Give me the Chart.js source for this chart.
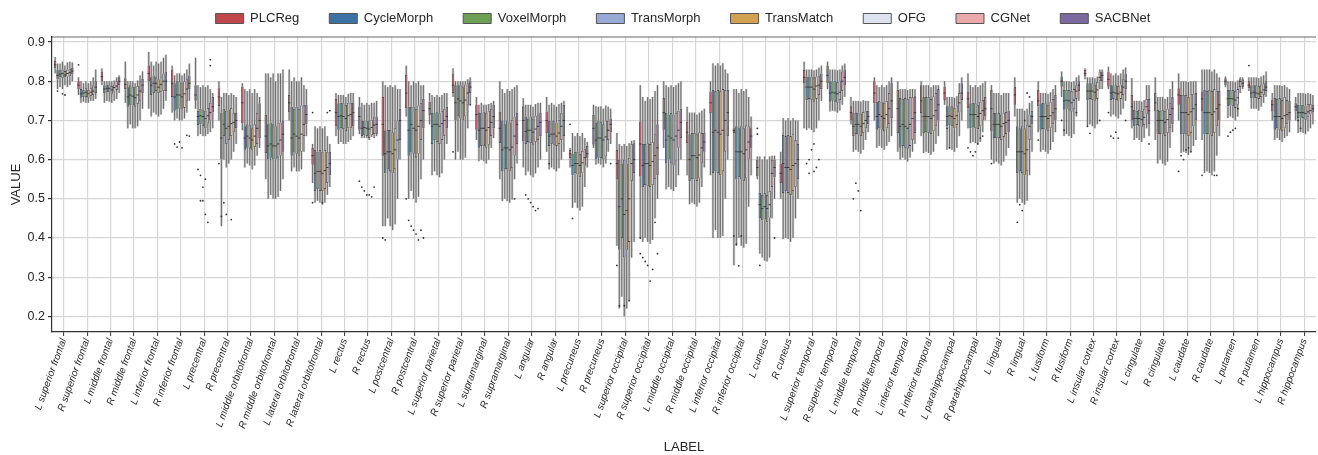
<!DOCTYPE html>
<html><head><meta charset="utf-8">
<script src="https://cdn.jsdelivr.net/npm/chart.js@4.4.1/dist/chart.umd.min.js"></script>
<style>html,body{margin:0;padding:0;background:#fff}canvas{display:block}</style>
</head><body>
<canvas id="c" width="1318" height="455" style="width:1318px;height:455px"></canvas>
<script>
// ---------- DATA ----------
const categories = ["L superior frontal","R superior frontal","L middle frontal","R middle frontal","L inferior frontal","R inferior frontal","L precentral","R precentral","L middle orbitofrontal","R middle orbitofrontal","L lateral orbitofrontal","R lateral orbitofrontal","L rectus","R rectus","L postcentral","R postcentral","L superior parietal","R superior parietal","L supramarginal","R supramarginal","L angular","R angular","L precuneus","R precuneus","L superior occipital","R superior occipital","L middle occipital","R middle occipital","L inferior occipital","R inferior occipital","L cuneus","R cuneus","L superior temporal","R superior temporal","L middle temporal","R middle temporal","L inferior temporal","R inferior temporal","L parahippocampal","R parahippocampal","L lingual","R lingual","L fusiform","R fusiform","L insular cortex","R insular cortex","L cingulate","R cingulate","L caudate","R caudate","L putamen","R putamen","L hippocampus","R hippocampus"];
const seriesNames = ["PLCReg","CycleMorph","VoxelMorph","TransMorph","TransMatch","OFG","CGNet","SACBNet"];
const yTicks = [0.2,0.3,0.4,0.5,0.6,0.7,0.8,0.9];
// each entry: [lower whisker, Q1, median, Q3, upper whisker]
const PLCReg = [[.82,.833,.842,.852,.862],[.765,.78,.79,.80,.81],[.79,.80,.812,.825,.833],[.745,.78,.792,.808,.85],[.73,.80,.82,.84,.875],[.72,.76,.795,.83,.84],[.73,.75,.765,.79,.86],[.70,.737,.76,.782,.80],[.675,.693,.745,.786,.795],[.55,.617,.66,.714,.82],[.70,.72,.745,.765,.83],[.54,.587,.61,.63,.64],[.66,.685,.72,.755,.77],[.665,.676,.71,.735,.76],[.43,.61,.69,.76,.80],[.71,.731,.77,.816,.84],[.69,.714,.73,.748,.77],[.76,.77,.79,.82,.833],[.65,.676,.715,.74,.76],[.55,.642,.68,.723,.80],[.58,.647,.70,.736,.757],[.62,.668,.70,.723,.76],[.58,.604,.615,.625,.63],[.63,.638,.68,.714,.74],[.38,.549,.59,.625,.668],[.40,.557,.64,.697,.79],[.63,.676,.72,.757,.80],[.56,.642,.67,.697,.735],[.56,.719,.745,.774,.80],[.33,.668,.674,.68,.78],[.55,.557,.58,.60,.608],[.50,.54,.565,.59,.62],[.68,.795,.81,.829,.85],[.78,.795,.815,.84,.85],[.69,.70,.72,.736,.76],[.70,.744,.77,.80,.81],[.62,.668,.73,.778,.80],[.66,.719,.75,.79,.80],[.74,.752,.77,.786,.80],[.68,.731,.755,.774,.82],[.60,.672,.73,.778,.79],[.71,.74,.765,.786,.81],[.67,.736,.75,.778,.80],[.76,.786,.80,.812,.825],[.805,.812,.82,.829,.833],[.78,.786,.805,.825,.837],[.68,.70,.735,.765,.808],[.65,.723,.745,.77,.81],[.70,.74,.765,.782,.82],[.65,.723,.755,.774,.83],[.785,.79,.80,.808,.812],[.775,.782,.79,.80,.81],[.70,.723,.74,.753,.77],[.70,.723,.735,.744,.76]];
const CycleMorph = [[.78,.805,.815,.83,.845],[.745,.758,.768,.78,.80],[.745,.77,.78,.79,.80],[.68,.735,.76,.785,.80],[.71,.765,.79,.81,.85],[.70,.725,.76,.795,.815],[.66,.688,.71,.725,.79],[.43,.60,.655,.72,.76],[.58,.625,.655,.685,.78],[.50,.60,.635,.69,.82],[.57,.61,.655,.735,.80],[.49,.52,.565,.625,.685],[.64,.676,.71,.744,.765],[.655,.66,.68,.70,.745],[.43,.565,.615,.675,.79],[.50,.61,.675,.735,.80],[.56,.64,.685,.72,.765],[.60,.70,.745,.79,.80],[.596,.63,.675,.72,.74],[.494,.57,.625,.70,.78],[.56,.64,.672,.71,.74],[.575,.635,.66,.70,.74],[.477,.56,.585,.615,.668],[.587,.60,.65,.695,.736],[.22,.37,.48,.60,.64],[.39,.53,.585,.64,.76],[.524,.59,.65,.719,.79],[.486,.545,.60,.665,.72],[.40,.566,.67,.778,.846],[.38,.549,.62,.685,.78],[.36,.45,.485,.515,.608],[.397,.515,.59,.663,.706],[.676,.752,.785,.812,.83],[.723,.748,.77,.80,.83],[.62,.66,.685,.72,.75],[.63,.676,.71,.748,.79],[.60,.63,.685,.757,.78],[.617,.668,.71,.76,.79],[.625,.685,.71,.736,.76],[.642,.68,.715,.744,.79],[.59,.655,.69,.719,.77],[.49,.566,.62,.685,.73],[.62,.676,.71,.744,.77],[.66,.727,.75,.778,.80],[.685,.752,.775,.795,.81],[.71,.752,.77,.79,.82],[.65,.685,.705,.727,.75],[.59,.664,.70,.727,.76],[.617,.664,.72,.765,.80],[.566,.664,.72,.778,.83],[.706,.736,.755,.778,.80],[.73,.757,.77,.79,.81],[.65,.676,.71,.757,.79],[.668,.706,.72,.74,.77]];
const VoxelMorph = [[.785,.81,.818,.828,.845],[.748,.76,.77,.778,.795],[.75,.772,.782,.792,.80],[.69,.74,.765,.79,.80],[.72,.77,.795,.815,.84],[.705,.73,.765,.80,.82],[.665,.69,.712,.73,.785],[.60,.66,.69,.73,.77],[.59,.63,.66,.69,.775],[.51,.605,.64,.695,.81],[.58,.62,.665,.73,.81],[.495,.525,.57,.62,.68],[.645,.68,.712,.745,.765],[.655,.662,.682,.70,.74],[.45,.575,.62,.676,.785],[.52,.62,.69,.735,.79],[.57,.65,.69,.72,.76],[.62,.71,.755,.79,.80],[.60,.635,.68,.72,.745],[.50,.575,.63,.69,.77],[.57,.645,.675,.705,.74],[.58,.64,.665,.70,.745],[.49,.565,.59,.62,.66],[.59,.605,.655,.70,.735],[.25,.40,.50,.59,.635],[.40,.535,.59,.64,.75],[.53,.60,.66,.715,.785],[.49,.55,.61,.668,.72],[.42,.57,.675,.775,.84],[.40,.555,.62,.68,.77],[.35,.445,.475,.51,.60],[.40,.52,.58,.66,.70],[.68,.755,.785,.81,.83],[.725,.75,.772,.80,.83],[.625,.665,.69,.72,.75],[.635,.68,.715,.75,.785],[.605,.635,.69,.755,.78],[.62,.67,.71,.76,.79],[.63,.688,.712,.736,.76],[.645,.682,.715,.745,.785],[.595,.655,.69,.72,.77],[.50,.57,.62,.68,.73],[.625,.678,.71,.745,.77],[.665,.73,.752,.778,.80],[.69,.755,.775,.795,.81],[.715,.755,.772,.79,.815],[.655,.688,.705,.725,.75],[.60,.665,.70,.725,.76],[.62,.665,.72,.765,.80],[.57,.665,.72,.775,.83],[.71,.738,.756,.778,.80],[.73,.758,.772,.79,.81],[.655,.68,.71,.755,.79],[.67,.707,.72,.74,.77]];
const TransMorph = [[.78,.808,.82,.83,.85],[.745,.76,.772,.782,.80],[.748,.772,.782,.79,.80],[.68,.738,.762,.786,.80],[.715,.775,.795,.81,.85],[.70,.73,.765,.80,.82],[.66,.685,.71,.728,.79],[.58,.64,.68,.725,.77],[.585,.628,.655,.688,.78],[.50,.60,.635,.69,.82],[.57,.615,.66,.735,.80],[.49,.52,.57,.625,.685],[.64,.678,.71,.744,.765],[.655,.66,.68,.70,.745],[.43,.57,.62,.676,.79],[.50,.615,.68,.735,.80],[.56,.645,.69,.723,.765],[.60,.705,.75,.79,.80],[.596,.634,.68,.723,.74],[.494,.575,.63,.70,.78],[.56,.642,.675,.71,.74],[.575,.638,.665,.70,.74],[.477,.562,.59,.62,.668],[.587,.604,.655,.697,.736],[.20,.35,.46,.60,.64],[.39,.532,.59,.642,.76],[.524,.59,.655,.719,.79],[.486,.549,.61,.668,.72],[.40,.566,.67,.778,.846],[.38,.549,.62,.685,.78],[.342,.447,.48,.515,.608],[.397,.515,.58,.663,.706],[.676,.752,.785,.812,.83],[.723,.748,.77,.80,.83],[.62,.664,.69,.72,.75],[.63,.676,.71,.748,.79],[.60,.63,.685,.757,.78],[.617,.668,.71,.76,.79],[.625,.685,.71,.736,.76],[.642,.68,.715,.744,.79],[.59,.655,.69,.719,.77],[.49,.566,.62,.685,.73],[.62,.676,.71,.744,.77],[.66,.727,.75,.778,.80],[.685,.752,.775,.795,.81],[.71,.752,.77,.79,.82],[.65,.685,.705,.727,.75],[.59,.664,.70,.727,.76],[.617,.664,.72,.765,.80],[.566,.664,.72,.778,.83],[.706,.736,.755,.778,.80],[.73,.757,.77,.79,.81],[.65,.676,.71,.757,.79],[.668,.706,.72,.74,.77]];
const TransMatch = [[.79,.81,.816,.826,.84],[.745,.758,.768,.778,.795],[.745,.768,.778,.788,.80],[.68,.735,.758,.785,.795],[.71,.77,.785,.805,.845],[.70,.728,.76,.795,.815],[.66,.68,.705,.725,.785],[.59,.65,.685,.728,.765],[.575,.625,.65,.68,.77],[.50,.60,.635,.685,.80],[.57,.61,.655,.73,.80],[.485,.52,.565,.62,.68],[.64,.672,.705,.74,.76],[.65,.655,.678,.70,.74],[.42,.565,.615,.67,.785],[.49,.605,.675,.73,.795],[.555,.64,.685,.72,.76],[.60,.70,.745,.785,.80],[.59,.63,.675,.72,.74],[.49,.57,.625,.695,.775],[.555,.638,.67,.705,.735],[.57,.635,.66,.695,.735],[.47,.555,.585,.615,.66],[.58,.60,.65,.69,.73],[.22,.37,.47,.59,.635],[.385,.53,.585,.64,.755],[.52,.585,.65,.715,.785],[.48,.545,.605,.665,.715],[.40,.56,.665,.775,.84],[.375,.545,.615,.68,.775],[.34,.44,.475,.51,.60],[.39,.51,.575,.66,.70],[.67,.748,.78,.81,.828],[.72,.745,.768,.798,.828],[.615,.66,.685,.718,.748],[.625,.672,.705,.745,.785],[.595,.628,.68,.755,.778],[.612,.665,.705,.755,.785],[.62,.68,.705,.732,.758],[.64,.678,.71,.74,.785],[.585,.65,.685,.715,.765],[.485,.56,.615,.68,.725],[.615,.672,.705,.74,.768],[.655,.722,.745,.775,.798],[.68,.75,.772,.792,.808],[.705,.75,.768,.788,.815],[.645,.682,.702,.725,.748],[.585,.66,.695,.725,.755],[.612,.66,.715,.76,.798],[.56,.66,.715,.775,.825],[.70,.732,.752,.775,.798],[.725,.755,.768,.788,.808],[.645,.672,.705,.752,.788],[.665,.702,.718,.738,.768]];
const OFG = [[.785,.812,.82,.83,.848],[.75,.762,.772,.782,.80],[.75,.774,.784,.792,.802],[.685,.742,.765,.788,.802],[.715,.772,.792,.812,.85],[.705,.732,.768,.80,.82],[.665,.692,.712,.732,.79],[.60,.66,.692,.732,.77],[.585,.632,.66,.69,.78],[.505,.605,.64,.695,.82],[.575,.62,.665,.738,.81],[.49,.525,.572,.625,.685],[.645,.68,.712,.745,.768],[.658,.662,.682,.702,.745],[.435,.575,.625,.68,.79],[.505,.615,.685,.738,.80],[.565,.65,.692,.725,.765],[.605,.71,.752,.792,.80],[.60,.638,.682,.725,.742],[.498,.578,.632,.702,.78],[.565,.645,.678,.712,.742],[.578,.64,.668,.702,.742],[.48,.565,.592,.622,.668],[.59,.608,.658,.70,.738],[.24,.39,.50,.605,.642],[.395,.535,.595,.645,.76],[.53,.595,.66,.72,.79],[.49,.552,.612,.67,.72],[.405,.57,.675,.78,.846],[.385,.552,.625,.688,.78],[.35,.452,.485,.52,.608],[.40,.52,.585,.665,.706],[.68,.755,.788,.812,.83],[.725,.752,.772,.802,.83],[.625,.668,.692,.722,.752],[.635,.68,.715,.75,.79],[.605,.635,.69,.76,.78],[.62,.672,.712,.762,.79],[.63,.688,.712,.738,.762],[.645,.685,.718,.748,.79],[.595,.658,.692,.72,.77],[.495,.57,.625,.688,.73],[.625,.68,.712,.748,.772],[.665,.73,.752,.78,.80],[.69,.755,.778,.798,.812],[.715,.755,.772,.792,.82],[.655,.688,.708,.73,.752],[.595,.668,.702,.73,.76],[.62,.668,.722,.768,.80],[.57,.668,.722,.78,.83],[.71,.74,.758,.78,.802],[.735,.76,.772,.792,.812],[.655,.68,.712,.76,.79],[.672,.708,.722,.742,.77]];
const CGNet = [[.79,.812,.822,.832,.85],[.75,.765,.775,.79,.81],[.755,.778,.788,.80,.81],[.70,.75,.775,.80,.815],[.73,.775,.80,.82,.86],[.72,.75,.78,.805,.83],[.67,.70,.72,.745,.78],[.62,.67,.695,.72,.765],[.61,.64,.68,.72,.77],[.52,.61,.65,.695,.82],[.62,.66,.69,.74,.79],[.51,.54,.58,.62,.66],[.65,.68,.715,.745,.77],[.655,.665,.688,.71,.745],[.50,.60,.65,.70,.78],[.55,.65,.70,.745,.79],[.60,.66,.70,.73,.77],[.68,.74,.77,.795,.805],[.63,.66,.695,.73,.745],[.55,.61,.66,.71,.785],[.58,.65,.685,.715,.745],[.60,.65,.685,.72,.745],[.53,.585,.605,.628,.655],[.62,.65,.675,.70,.735],[.35,.545,.59,.64,.648],[.45,.55,.61,.665,.775],[.56,.63,.675,.725,.795],[.53,.59,.63,.668,.725],[.50,.62,.70,.778,.83],[.48,.60,.645,.685,.76],[.45,.53,.565,.60,.61],[.45,.53,.59,.65,.70],[.70,.765,.79,.815,.835],[.74,.775,.80,.825,.84],[.65,.68,.70,.725,.75],[.645,.69,.73,.77,.80],[.62,.65,.705,.76,.78],[.64,.685,.725,.77,.79],[.66,.72,.745,.77,.795],[.67,.70,.725,.752,.795],[.61,.665,.695,.722,.77],[.56,.65,.685,.715,.745],[.645,.69,.72,.755,.78],[.71,.755,.775,.79,.81],[.78,.80,.81,.825,.83],[.73,.765,.785,.805,.83],[.68,.715,.735,.755,.79],[.63,.68,.715,.745,.78],[.635,.685,.73,.768,.80],[.61,.685,.73,.776,.82],[.77,.785,.80,.805,.81],[.745,.765,.778,.795,.815],[.66,.69,.715,.752,.785],[.68,.715,.725,.742,.768]];
const SACBNet = [[.80,.818,.826,.834,.848],[.755,.77,.785,.80,.83],[.77,.79,.80,.81,.815],[.73,.77,.79,.806,.825],[.75,.775,.80,.825,.868],[.75,.78,.795,.815,.845],[.68,.72,.735,.76,.77],[.64,.68,.70,.72,.76],[.63,.655,.70,.744,.76],[.55,.62,.665,.70,.83],[.66,.69,.715,.74,.78],[.53,.56,.59,.62,.64],[.66,.685,.72,.745,.77],[.66,.665,.69,.71,.75],[.60,.65,.70,.73,.78],[.60,.68,.725,.755,.79],[.64,.68,.71,.735,.77],[.74,.77,.785,.80,.81],[.655,.68,.71,.74,.75],[.59,.64,.69,.72,.79],[.60,.66,.695,.72,.745],[.62,.66,.70,.74,.75],[.58,.605,.615,.635,.645],[.64,.67,.69,.705,.73],[.39,.566,.60,.642,.65],[.50,.56,.63,.69,.79],[.60,.655,.695,.73,.80],[.58,.62,.645,.668,.73],[.60,.66,.72,.778,.82],[.56,.63,.66,.68,.71],[.50,.555,.58,.60,.61],[.50,.55,.60,.64,.70],[.75,.78,.80,.82,.84],[.76,.79,.81,.83,.845],[.67,.69,.71,.725,.75],[.66,.706,.75,.795,.81],[.64,.668,.72,.762,.78],[.66,.70,.74,.78,.79],[.70,.752,.77,.795,.81],[.70,.71,.73,.76,.80],[.63,.67,.70,.725,.77],[.62,.69,.71,.725,.75],[.67,.70,.73,.765,.79],[.75,.775,.79,.80,.815],[.78,.80,.815,.825,.83],[.75,.78,.80,.82,.835],[.66,.69,.725,.755,.79],[.67,.69,.73,.76,.80],[.65,.70,.74,.77,.80],[.66,.70,.74,.775,.81],[.78,.785,.795,.805,.81],[.76,.775,.785,.80,.825],[.67,.70,.72,.75,.78],[.69,.72,.73,.74,.765]];
// outliers: [category index, series index, value]
const outliers = [[0,1,.775],[0,3,.768],[0,4,.765],[1,0,.842],[5,1,.64],[5,2,.632],[5,3,.645],[5,4,.63],[5,6,.662],[5,7,.66],[6,1,.575],[6,2,.56],[6,2,.495],[6,3,.53],[6,3,.495],[6,4,.55],[6,4,.46],[6,5,.44],[6,6,.84],[6,6,.855],[7,0,.59],[7,1,.455],[7,2,.49],[7,3,.46],[7,5,.447],[11,0,.72],[11,6,.72],[11,7,.725],[11,0,.49],[11,4,.49],[13,0,.545],[13,1,.53],[13,2,.52],[13,3,.51],[13,4,.51],[13,5,.505],[13,6,.53],[14,0,.40],[14,1,.395],[15,0,.50],[15,1,.445],[15,2,.43],[15,3,.42],[15,4,.41],[15,5,.395],[15,6,.42],[15,7,.40],[17,0,.62],[17,7,.74],[19,6,.50],[20,1,.51],[20,2,.50],[20,3,.49],[20,4,.48],[20,5,.47],[20,6,.475],[21,1,.59],[22,0,.69],[22,1,.45],[23,7,.59],[24,0,.33],[24,1,.227],[24,3,.227],[24,5,.24],[25,0,.36],[25,0,.40],[25,1,.35],[25,2,.34],[25,3,.33],[25,4,.29],[25,5,.32],[25,6,.44],[25,7,.36],[29,0,.405],[29,1,.384],[29,2,.329],[29,3,.405],[30,0,.68],[30,0,.665],[30,1,.33],[30,7,.40],[32,1,.59],[32,2,.60],[32,3,.625],[32,4,.64],[32,4,.57],[32,5,.58],[32,6,.60],[32,2,.565],[34,1,.50],[34,2,.54],[34,3,.52],[34,4,.47],[38,1,.68],[38,2,.63],[39,0,.63],[39,1,.62],[39,2,.61],[39,3,.62],[39,4,.64],[39,5,.655],[39,6,.66],[40,0,.59],[41,1,.44],[41,2,.485],[41,3,.47],[41,4,.70],[41,5,.77],[41,6,.76],[42,0,.65],[43,0,.70],[43,1,.675],[43,6,.72],[44,1,.685],[44,2,.667],[44,6,.70],[45,0,.72],[45,1,.66],[45,2,.655],[45,3,.67],[45,4,.655],[45,7,.70],[46,7,.64],[48,0,.57],[48,1,.61],[48,2,.60],[48,3,.625],[48,4,.63],[48,5,.62],[49,0,.56],[49,5,.56],[49,6,.56],[50,1,.66],[50,2,.67],[50,3,.675],[50,4,.68],[50,5,.73],[51,0,.84],[53,1,.70],[53,2,.68]];

// ---------- STYLE ----------
const allSeries = [PLCReg, CycleMorph, VoxelMorph, TransMorph, TransMatch, OFG, CGNet, SACBNet];
const colors = ['#c0474b','#3c72a6','#6d9f54','#97aad6','#d3a250','#dde4f0','#eba9ab','#7b69a0'];
const FONT = '"Liberation Sans", Arial, Helvetica, sans-serif';
const TXT = '#262626';
const LEGEND_SHIFT = 23;

const boxPlugin = {
  id: 'boxes',
  beforeLayout(chart) {
    const lg = chart.legend;
    if (lg && !lg._patched) {
      const f = lg.fit;
      lg.fit = function () { f.call(this); this.height += 2; };
      lg._patched = true;
    }
  },
  afterLayout(chart) {
    const lg = chart.legend;
    if (lg) { lg.left += LEGEND_SHIFT; lg.right += LEGEND_SHIFT; }
  },
  beforeDatasetsDraw(chart) {
    const {ctx, scales: {y}} = chart;
    ctx.save();
    ctx.fillStyle = 'rgba(160,160,160,0.55)';
    allSeries.forEach((s, i) => {
      chart.getDatasetMeta(i).data.forEach((el, j) => {
        const t = s[j], w = el.width;
        const yt = y.getPixelForValue(t[4]), yb = y.getPixelForValue(t[0]);
        ctx.fillRect(el.x - w / 2, yt, w, yb - yt);
      });
    });
    ctx.restore();
  },
  afterDatasetsDraw(chart) {
    const {ctx, scales: {y}, chartArea} = chart;
    ctx.save();
    ctx.strokeStyle = '#6a6a6a';
    ctx.lineWidth = 1;
    ctx.beginPath();
    allSeries.forEach((s, i) => {
      chart.getDatasetMeta(i).data.forEach((el, j) => {
        const t = s[j], x = el.x;
        ctx.moveTo(x, y.getPixelForValue(t[4])); ctx.lineTo(x, y.getPixelForValue(t[3]));
        ctx.moveTo(x, y.getPixelForValue(t[1])); ctx.lineTo(x, y.getPixelForValue(t[0]));
      });
    });
    ctx.stroke();
    ctx.strokeStyle = '#3a3a3a';
    ctx.beginPath();
    allSeries.forEach((s, i) => {
      chart.getDatasetMeta(i).data.forEach((el, j) => {
        const w = el.width, ym = y.getPixelForValue(s[j][2]);
        ctx.moveTo(el.x - w / 2, ym); ctx.lineTo(el.x + w / 2, ym);
      });
    });
    ctx.stroke();
    ctx.fillStyle = '#333';
    outliers.forEach(([c, s, v]) => {
      const el = chart.getDatasetMeta(s).data[c];
      ctx.beginPath();
      ctx.arc(el.x, y.getPixelForValue(v), 0.9, 0, Math.PI * 2);
      ctx.fill();
    });
    // top spine
    ctx.strokeStyle = '#666';
    ctx.lineWidth = 1.2;
    ctx.beginPath();
    ctx.moveTo(chartArea.left, chartArea.top);
    ctx.lineTo(chartArea.right, chartArea.top);
    ctx.stroke();
    ctx.restore();
  }
};

const datasets = allSeries.map((s, i) => ({
  label: seriesNames[i],
  data: s.map(t => [t[1], t[3]]),
  backgroundColor: colors[i],
  borderColor: '#444',
  borderWidth: 0.8,
  borderSkipped: false,
  categoryPercentage: 0.84,
  barPercentage: 0.96
}));

new Chart(document.getElementById('c'), {
  type: 'bar',
  data: { labels: categories, datasets },
  plugins: [boxPlugin],
  options: {
    responsive: false,
    animation: false,
    devicePixelRatio: 1,
    layout: { padding: { top: 0, left: 4, right: 2, bottom: 0 } },
    plugins: {
      tooltip: { enabled: false },
      legend: {
        position: 'top',
        labels: {
          boxWidth: 28, boxHeight: 10, padding: 12,
          color: TXT,
          font: { family: FONT, size: 13 },
          generateLabels(chart) {
            const items = Chart.defaults.plugins.legend.labels.generateLabels(chart);
            items.forEach((it, i) => { it.lineWidth = 1; it.strokeStyle = '#555'; if (i < items.length - 1) it.text += '     '; });
            return items;
          }
        }
      }
    },
    scales: {
      x: {
        type: 'category',
        offset: true,
        grid: { offset: false, color: '#d6d6d6', lineWidth: 1.2, tickLength: 4, tickColor: '#333', tickWidth: 1 },
        border: { color: '#333', width: 1.2 },
        ticks: { autoSkip: false, maxRotation: 70, minRotation: 70, padding: 1, color: TXT,
                 font: { family: FONT, size: 10, style: 'italic' } },
        title: { display: true, text: 'LABEL', color: TXT, font: { family: FONT, size: 13 }, padding: { top: 0, bottom: 0 } },
        afterFit(scale) { scale.height = 123; }
      },
      y: {
        min: 0.16, max: 0.913,
        afterBuildTicks(scale) { scale.ticks = yTicks.map(v => ({ value: v })); },
        grid: { color: '#d6d6d6', lineWidth: 1.2, tickLength: 4, tickColor: '#333' },
        border: { color: '#333', width: 1.2 },
        ticks: { color: TXT, padding: 3, font: { family: FONT, size: 12.5 },
                 callback: v => v.toFixed(1) },
        title: { display: true, text: 'VALUE', color: TXT, font: { family: FONT, size: 13 }, padding: { top: 5, bottom: 0 } },
        afterFit(scale) { scale.width = 48; }
      }
    }
  }
});
</script>
</body></html>
